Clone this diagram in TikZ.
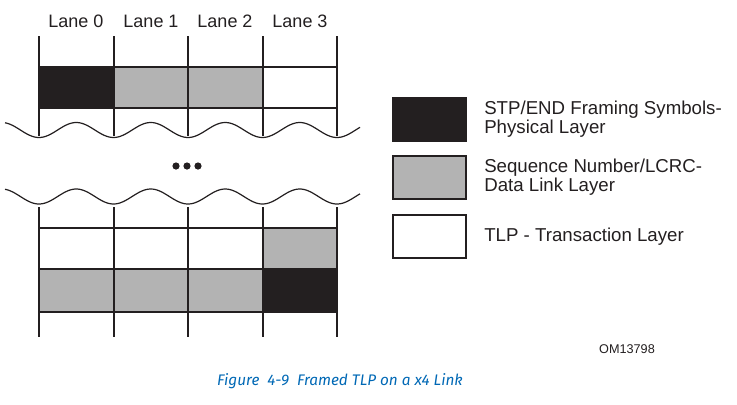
\documentclass[tikz,border=0pt]{standalone}
\usepackage{fontspec}
\setmainfont{Liberation Sans}
\newfontfamily\capfont{Fira Sans}
\usetikzlibrary{positioning}
\definecolor{symblack}{RGB}{35,31,32}
\definecolor{symgray}{RGB}{179,179,179}
\definecolor{capblue}{RGB}{0,104,181}
\begin{document}
\begin{tikzpicture}[x=0.75pt,y=0.75pt,yscale=-1,xscale=1,
    laneline/.style={line width=1.5pt,color=symblack},
    waveline/.style={line width=0.9pt,color=symblack},
    legendbox/.style={draw=symblack,line width=1.5pt,minimum width=54.75pt,minimum height=32.25pt,inner sep=0pt},
    legendtext/.style={right=12.75pt of #1,inner sep=0pt,align=left,font=\fontsize{14}{14.25}\selectfont},
    every node/.style={text=symblack}]
    \useasboundingbox (0,0) rectangle (737,404);

    % Lane labels
    \foreach \i/\x in {0/76,1/151,2/225,3/300}
      \node[font=\fontsize{13.5}{16}\selectfont] (lane\i) at (\x,21.5) {Lane \i};

    % Top row: STP + sequence number
    \fill[symblack] (39,67) rectangle (114,108);
    \fill[symgray] (114,67) rectangle (263,108);
    % Bottom rows: LCRC + END
    \fill[symgray] (263,228) rectangle (337,269);
    \fill[symgray] (39,269) rectangle (263,312);
    \fill[symblack] (263,269) rectangle (337,312);

    % Lane borders
    \foreach \x in {39,113.5,188,262.5,337} {
      \draw[laneline] (\x,36) -- (\x,136);
      \draw[laneline] (\x,207) -- (\x,337);
    }
    \foreach \y in {67,108}
      \draw[laneline] (39,\y) -- (337,\y);
    \foreach \y in {228,269,312}
      \draw[laneline] (39,\y) -- (337,\y);

    % Break waves
    \draw[waveline] plot[domain=5:360,samples=200] (\x,{130+7.5*cos(4.8322*(\x-39))});
    \draw[waveline] plot[domain=5:360,samples=200] (\x,{196.5+7.5*cos(4.8322*(\x-39))});

    % Ellipsis
    \foreach \x in {176,187,198}
      \fill[symblack] (\x,166) circle (2.7pt);

    % Legend
    \node[legendbox,fill=symblack] (stpbox) at (429.5,119.5) {};
    \node[legendbox,fill=symgray] (seqbox) at (429.5,177.5) {};
    \node[legendbox,fill=white] (tlpbox) at (429.5,236.5) {};
    \node[legendtext=stpbox] (stptext) {STP/END Framing Symbols-\\Physical Layer};
    \node[legendtext=seqbox] (seqtext) {Sequence Number/LCRC-\\Data Link Layer};
    \node[legendtext=tlpbox] (tlptext) {TLP - Transaction Layer};

    % Figure id and caption
    \node[font=\fontsize{9.5}{11}\selectfont] (figid) at (627,349) {OM13798};
    \node[font=\capfont\itshape\fontsize{11.5}{13}\selectfont,text=capblue] (figcap) at (340,381) {Figure\ \ 4-9\ \ Framed TLP on a x4 Link};
\end{tikzpicture}
\end{document}
